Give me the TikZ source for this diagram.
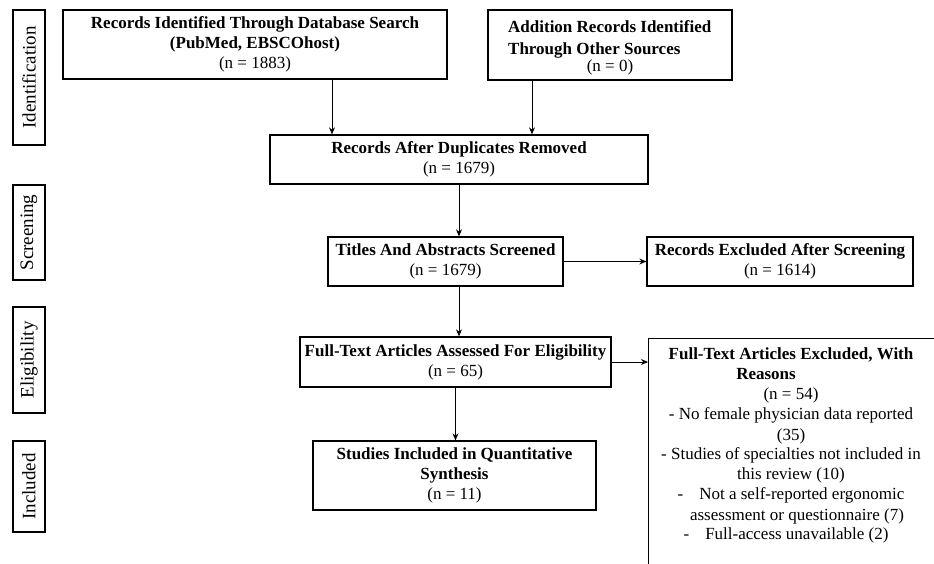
\documentclass[tikz,border=0pt]{standalone}
\usepackage{fontspec}
\setmainfont{Liberation Serif}
\usetikzlibrary{arrows.meta,calc}
\begin{document}
\begin{tikzpicture}[x=1pt,y=-1pt,
  box/.style={draw,line width=1.3pt,inner sep=0pt,align=center,
    font=\fontsize{17}{20}\selectfont,execute at begin node={\rule{0pt}{18pt}}},
  side/.style={draw,line width=1.3pt,inner sep=0pt,minimum width=32pt,
    rotate=90,font=\fontsize{19}{20}\selectfont},
  arr/.style={line width=0.9pt,-{Stealth[length=7pt,width=6pt]}},
  txt/.style={inner sep=0pt,align=center,font=\fontsize{17}{20}\selectfont}]
\clip (0,0) rectangle (934,564);
\fill[white] (0,0) rectangle (934,564);
% side labels
\node[side,minimum width=135pt,minimum height=32pt] (lid) at (29,77.5) {Identification};
\node[side,minimum width=95pt,minimum height=32pt] (lsc) at (29,232.5) {Screening};
\node[side,minimum width=106pt,minimum height=32pt] (lel) at (29,360) {Eligibility};
\node[side,minimum width=91pt,minimum height=32pt] (lin) at (29,486.5) {Included};
% boxes
\node[box,minimum width=384pt,minimum height=69pt] (b1) at (255,44.5)
  {\textbf{Records Identified Through Database Search}\\\textbf{(PubMed, EBSCOhost)}\\(n = 1883)};
\node[draw,line width=1.3pt,minimum width=244pt,minimum height=70pt] (b2) at (610,45) {};
\node[txt,align=left,anchor=north west] (b2t) at (508,20)
  {\textbf{Addition Records Identified}\\[2pt]\textbf{Through Other Sources}};
\node[txt] (b2n) at (610,67) {(n = 0)};
\node[box,minimum width=378pt,minimum height=49pt] (b3) at (459,159.5)
  {\textbf{Records After Duplicates Removed}\\(n = 1679)};
\node[box,minimum width=235pt,minimum height=49pt] (b4) at (445.5,261.5)
  {\textbf{Titles And Abstracts Screened}\\(n = 1679)};
\node[box,minimum width=266pt,minimum height=49pt] (b5) at (780,261.5)
  {\textbf{Records Excluded After Screening}\\(n = 1614)};
\node[box,minimum width=311pt,minimum height=50pt] (b6) at (455.5,362)
  {\textbf{Full-Text Articles Assessed For Eligibility}\\(n = 65)};
\node[box,minimum width=283pt,minimum height=69pt] (b7) at (454.5,475.5)
  {\textbf{Studies Included in Quantitative}\\\textbf{Synthesis}\\(n = 11)};
\node[draw,line width=1.3pt,minimum width=320pt,minimum height=300pt,anchor=north west] (b8) at (648,338) {};
\node[txt,anchor=north] (b8t) at (791,348)
  {\textbf{Full-Text Articles Excluded, With}\\\hspace*{-50pt}\textbf{Reasons}\\(n = 54)\\
   - No female physician data reported\\(35)\\
   - Studies of specialties not included in\\this review (10)\\
   -\hspace{16pt}Not a self-reported ergonomic\\
   \hspace*{12pt}assessment or questionnaire (7)\\
   \hspace*{-10pt}-\hspace{16pt}Full-access unavailable (2)};
% connectors
\draw[arr] ([xshift=77pt]b1.south) -- ([xshift=77pt]b1.south |- b3.north);
\draw[arr] ([xshift=-78pt]b2.south) -- ([xshift=-78pt]b2.south |- b3.north);
\draw[arr] (b3.south) -- (b3.south |- b4.north);
\draw[arr] (b4.east) -- (b5.west);
\draw[arr] (b3.south |- b4.south) -- (b3.south |- b6.north);
\draw[arr] (b6.east) -- (b6.east -| b8.west);
\draw[arr] (b6.south) -- (b6.south |- b7.north);
\end{tikzpicture}
\end{document}
